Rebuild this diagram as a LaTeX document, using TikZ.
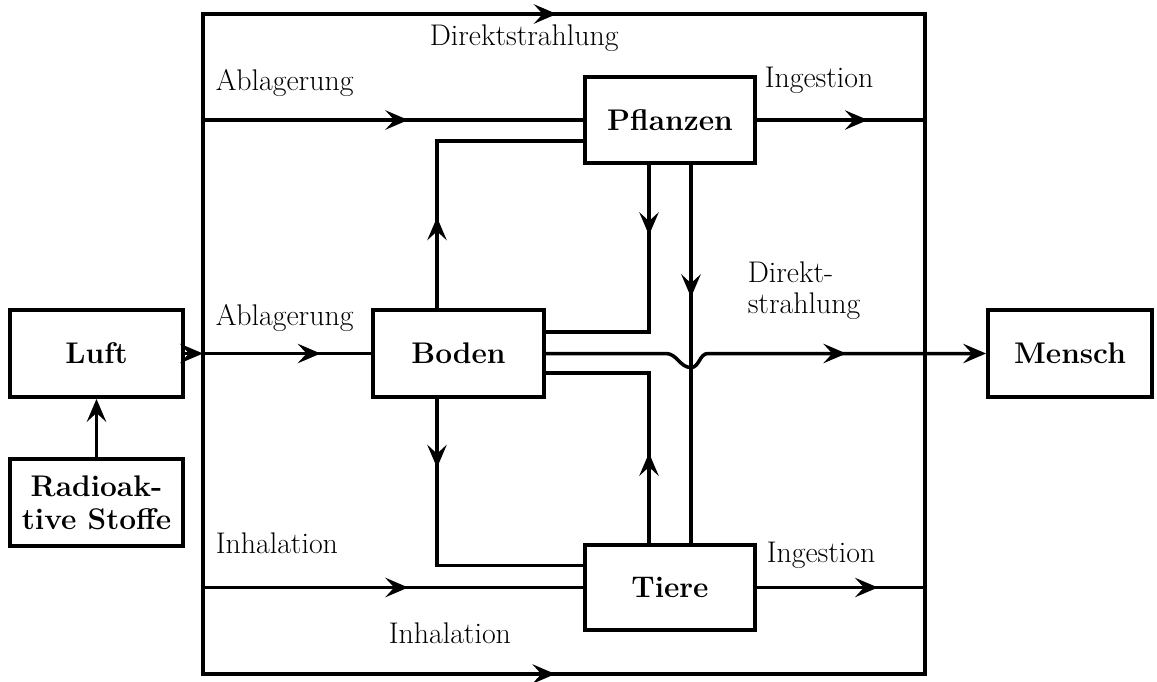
\documentclass[tikz,border=0pt]{standalone}
\usepackage{xcolor}
\usepackage{tikz}
\usetikzlibrary{arrows.meta,decorations.markings}

\tikzset{
	kasten/.style={draw,line width=2.2pt,font=\fontsize{17}{19}\selectfont\bfseries,minimum height=1.74cm},
	pfeil/.style={-{Stealth[length=13pt,width=11pt,inset=5pt]}},
	mitte/.style={postaction={decorate},decoration={markings,
		mark=at position #1 with {\arrow{Stealth[length=13pt,width=11pt,inset=5pt]}}}},
	beschr/.style={anchor=base west,inner sep=0pt},
	rand/.style={line cap=rect},
}

\begin{document}
\begin{tikzpicture}[x=0.02cm,y=-0.02cm,line width=2pt,font=\fontsize{17}{19}\selectfont]
			
			\useasboundingbox (0,0) rectangle (1157,681);
			
			\node[kasten,minimum width=3.46cm] (luft) at (96.5,353.5) {Luft};
			\node[kasten,minimum width=3.46cm,align=center] (radio) at (96.5,502.5) {Radioak-\\tive Stoffe};
			\node[kasten,minimum width=3.42cm] (boden) at (458.5,353.5) {Boden};
			\node[kasten,minimum width=3.4cm,minimum height=1.72cm] (pflanzen) at (670,120) {Pflanzen};
			\node[kasten,minimum width=3.4cm,minimum height=1.7cm] (tiere) at (670,587.5) {Tiere};
			\node[kasten,minimum width=3.28cm] (mensch) at (1070,353.5) {Mensch};
			
			\coordinate (nw) at (203,14);
			\coordinate (ne) at (925,14);
			\coordinate (sw) at (203,674);
			\coordinate (se) at (925,674);
			
			\draw[rand] (nw) -- (sw);
			\draw[rand] (ne) -- (se);
			\draw[rand,mitte=0.49] (nw) -- (ne);
			\draw[rand,mitte=0.488] (sw) -- (se);
			
			\draw[pfeil] (radio) -- (luft);
			\draw[pfeil] (luft) -- (luft -| nw);
			\draw[mitte=0.7] (luft -| nw) -- (boden);
			\draw[mitte=0.54] (pflanzen -| nw) -- (pflanzen);
			\draw[mitte=0.54] (tiere -| nw) -- (tiere);
			\draw[mitte=0.66] (pflanzen) -- (pflanzen -| ne);
			\draw[mitte=0.72] (tiere) -- (tiere -| ne);
			
			\draw[mitte=0.29] ([xshift=-0.43cm]boden.north) |- ([yshift=-0.42cm]pflanzen.west);
			\draw[mitte=0.26] ([xshift=-0.42cm]pflanzen.south) |- ([yshift=0.43cm]boden.east);
			\draw[mitte=0.35] ([xshift=0.42cm]pflanzen.south) -- ([xshift=0.42cm]tiere.north);
			\draw[mitte=0.33] ([xshift=-0.42cm]tiere.north) |- ([yshift=-0.39cm]boden.east);
			\draw[mitte=0.22] ([xshift=-0.43cm]boden.south) |- ([yshift=0.44cm]tiere.west);
			\draw[pfeil,mitte=0.69] (boden.east) -- ++(120,0) to[out=0,in=180] ++(25,14)
				to[out=0,in=180] ++(17,-14) -- (mensch);
			
			\node[beschr] (t1) at (428,45) {Direktstrahlung};
			\node[beschr] (t2) at (214,90) {Ablagerung};
			\node[beschr] (t3) at (763,87) {Ingestion};
			\node[beschr] (t4) at (746,282) {Direkt-};
			\node[beschr] (t5) at (746,313) {strahlung};
			\node[beschr] (t6) at (214,325) {Ablagerung};
			\node[beschr] (t7) at (214,553) {Inhalation};
			\node[beschr] (t8) at (765,562) {Ingestion};
			\node[beschr] (t9) at (387,643) {Inhalation};
			
		\end{tikzpicture}
\end{document}
